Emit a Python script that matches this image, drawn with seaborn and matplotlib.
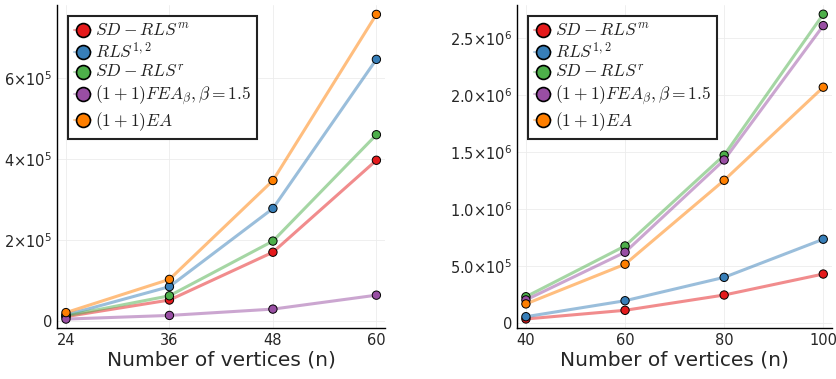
import pandas as pd
import numpy as np
import matplotlib
matplotlib.use("Agg")
import matplotlib.pyplot as plt
import seaborn as sns
from matplotlib.lines import Line2D

# ***** data ***** #
algorithms = [r"$SD-RLS^m$", r"$RLS^{1,2}$", r"$SD-RLS^r$",
              r"$(1+1)FEA_\beta, \beta=1.5$", r"$(1+1)EA$"]
colors = ["#e41a1c", "#377eb8", "#4daf4a", "#984ea3", "#ff7f00"]

n_left = [24, 36, 48, 60]
sd_rls_m_left = [11000, 52000, 170000, 397000]
rls12_left = [15000, 85000, 278000, 646000]
sd_rls_r_left = [13000, 62500, 197500, 460000]
fea_left = [5000, 14000, 29600, 64000]
ea_left = [21000, 103000, 347000, 757000]

n_right = [40, 60, 80, 100]
sd_rls_m_right = [38000, 114000, 248000, 432000]
rls12_right = [58000, 198000, 403000, 737000]
sd_rls_r_right = [233000, 678000, 1474000, 2710000]
fea_right = [205000, 623000, 1432000, 2610000]
ea_right = [170000, 518000, 1254000, 2070000]

yticks_left = [0, 2e5, 4e5, 6e5]
ylabels_left = ["0", r"$2{\times}10^5$", r"$4{\times}10^5$", r"$6{\times}10^5$"]
yticks_right = [0, 5e5, 1e6, 1.5e6, 2e6, 2.5e6]
ylabels_right = ["0", r"$5.0{\times}10^5$", r"$1.0{\times}10^6$", r"$1.5{\times}10^6$",
                 r"$2.0{\times}10^6$", r"$2.5{\times}10^6$"]


def long_df(n, series):
    rows = []
    for alg, vals in zip(algorithms, series):
        for x, v in zip(n, vals):
            rows.append({"n": x, "evals": v, "alg": alg})
    return pd.DataFrame(rows)


df_left = long_df(n_left, [sd_rls_m_left, rls12_left, sd_rls_r_left, fea_left, ea_left])
df_right = long_df(n_right, [sd_rls_m_right, rls12_right, sd_rls_r_right, fea_right, ea_right])

sns.set_style("white")
plt.rcParams["mathtext.fontset"] = "dejavusans"
plt.rcParams["font.family"] = ["DejaVu Sans"]

fig = plt.figure(figsize=(8.37, 3.79), dpi=100)
ax1 = fig.add_axes([0.068, 0.1346, 0.392, 0.852])
ax2 = fig.add_axes([0.6177, 0.1346, 0.3763, 0.852])
pal = dict(zip(algorithms, colors))


def draw(ax, df, xticks, yticks, ylabels, xlim, ylim, legx):
    sns.lineplot(data=df, x="n", y="evals", hue="alg", palette=pal, hue_order=algorithms,
                 linewidth=2.2, alpha=0.5, legend=False, ax=ax)
    sns.scatterplot(data=df, x="n", y="evals", hue="alg", palette=pal, hue_order=algorithms,
                    s=36, edgecolor="black", linewidth=0.7, legend=False, ax=ax, zorder=3)
    ax.set_xlim(xlim)
    ax.set_ylim(ylim)
    ax.set_xticks(xticks)
    ax.set_yticks(yticks, ylabels)
    ax.tick_params(labelsize=10.5, length=3, direction="in", width=0.8, color="black")
    ax.grid(True, color="#ececec", linewidth=0.6)
    for s in ["top", "right"]:
        ax.spines[s].set_visible(False)
    for s in ["left", "bottom"]:
        ax.spines[s].set_color("black")
        ax.spines[s].set_linewidth(1.0)
    ax.set_xlabel("Number of vertices (n)", fontsize=14.5, labelpad=2)
    ax.set_ylabel("")

    handles = [Line2D([], [], color=(*matplotlib.colors.to_rgb(c), 0.4), linewidth=1.5,
                      marker="o", markersize=10, markerfacecolor=c,
                      markeredgecolor="black", markeredgewidth=1.2)
               for c in colors]
    leg = ax.legend(handles, algorithms, loc="upper left", bbox_to_anchor=(legx, 0.966),
                    borderaxespad=0, fontsize=12.5, handlelength=1.0, handletextpad=0.2,
                    labelspacing=0.1, borderpad=0.35, fancybox=False, framealpha=1,
                    edgecolor="#222222")
    leg.get_frame().set_linewidth(1.5)
    for t in leg.get_texts():
        t.set_math_fontfamily("cm")
        t.set_color("#222222")


draw(ax1, df_left, n_left, yticks_left, ylabels_left, (22.95, 61.0), (-17000, 780000), 0.0335)
draw(ax2, df_right, n_right, yticks_right, ylabels_right, (38.2, 101.76), (-41000, 2.79e6), 0.035)

fig.savefig("out.png", dpi=100)
